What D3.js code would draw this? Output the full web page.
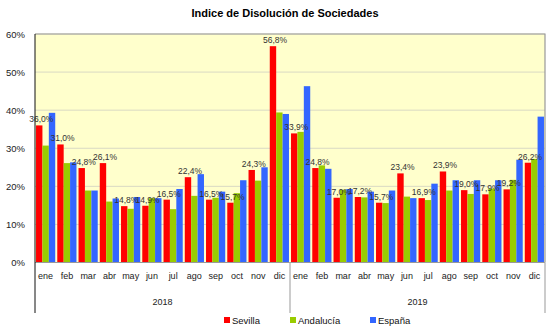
<!DOCTYPE html>
<html>
<head>
<meta charset="utf-8">
<script src="https://cdn.jsdelivr.net/npm/d3@7"></script>
<style>
  body { margin: 0; background: #fff; }
  text { font-family: "Liberation Sans", Arial, sans-serif; }
</style>
</head>
<body>
<svg id="chart" width="555" height="336"></svg>
<script>
const months = ["ene","feb","mar","abr","may","jun","jul","ago","sep","oct","nov","dic"];
const years = ["2018","2019"];
const seriesNames = ["Sevilla","Andalucía","España"];
const colors = ["#ff0000","#99cc00","#3366ff"];

// values in %, 24 months (2018 then 2019)
const sevilla   = [36.0,31.0,24.8,26.1,14.8,14.9,16.5,22.4,16.5,15.7,24.3,56.8,
                   33.9,24.8,17.0,17.2,15.7,23.4,16.9,23.9,19.0,17.9,19.2,26.2];
const andalucia = [30.7,26.1,18.9,16.0,14.1,16.9,14.0,17.5,17.0,18.2,21.5,39.4,
                   34.3,25.5,19.1,17.1,15.6,17.3,16.4,18.9,18.0,19.4,21.7,27.2];
const espana    = [39.3,26.3,18.9,16.8,17.2,16.9,19.3,23.2,18.6,21.6,25.0,39.0,
                   46.3,24.6,19.3,18.6,18.9,16.9,20.7,21.6,21.6,21.6,27.0,38.3];
const yTicks = [0,10,20,30,40,50,60];

const svg = d3.select("#chart");
const margin = {top: 34, right: 10, bottom: 72, left: 35};
const W = 555, H = 336;
const x0 = margin.left, x1 = W - margin.right;
const yTop = margin.top, yBot = 262.5;

const cats = [];
years.forEach(yr => months.forEach(m => cats.push(yr + "-" + m)));
const data = cats.map((c, i) => ({key: c, month: months[i % 12], vals: [sevilla[i], andalucia[i], espana[i]]}));

const x = d3.scaleBand().domain(cats).range([x0, x1]).paddingInner(0).paddingOuter(0);
const xs = d3.scaleBand().domain([0,1,2]).range([0, x.bandwidth()]).paddingInner(0).paddingOuter(0.16);
const y = d3.scaleLinear().domain([0, 60]).range([yBot, yTop]);

// title
svg.append("text").attr("x", 285).attr("y", 17).attr("text-anchor", "middle")
  .attr("font-size", 11).attr("font-weight", "bold").text("Indice de Disolución de Sociedades");

// plot background
svg.append("rect").attr("x", x0).attr("y", yTop).attr("width", x1 - x0).attr("height", yBot - yTop)
  .attr("fill", "#ffffcc");

// gridlines
svg.append("g").selectAll("line").data(yTicks.slice(1)).join("line")
  .attr("x1", x0).attr("x2", x1).attr("y1", d => y(d)).attr("y2", d => y(d))
  .attr("stroke", "#d9d9c3").attr("stroke-width", 1);

// frame top/right
svg.append("path").attr("d", `M${x0},${yTop}H${x1}V${yBot}`).attr("fill", "none")
  .attr("stroke", "#999").attr("stroke-width", 1.2);

// bars
const groups = svg.append("g").selectAll("g").data(data).join("g")
  .attr("transform", d => `translate(${x(d.key)},0)`);
groups.selectAll("rect").data(d => d.vals.map((v, k) => ({v, k}))).join("rect")
  .attr("x", d => xs(d.k)).attr("width", xs.bandwidth())
  .attr("y", d => y(d.v)).attr("height", d => yBot - y(d.v))
  .attr("fill", d => colors[d.k]);

// labels on Sevilla bars
groups.append("text")
  .attr("x", d => xs(0) + xs.bandwidth() / 2 + 2)
  .attr("y", d => y(d.vals[0]) - 3)
  .attr("text-anchor", "middle").attr("font-size", 8.5).attr("fill", "#333")
  .text(d => d3.format(".1f")(d.vals[0]).replace(".", ",") + "%");

// x axis baseline
svg.append("line").attr("x1", x0).attr("x2", x1).attr("y1", yBot).attr("y2", yBot)
  .attr("stroke", "#999");

// y axis
const yAxis = d3.axisLeft(y).tickValues(yTicks).tickSize(0).tickPadding(10)
  .tickFormat(d => d + "%");
const gy = svg.append("g").attr("transform", `translate(${x0},0)`).call(yAxis);
gy.select(".domain").remove();
gy.selectAll("text").attr("font-size", 9.5).attr("fill", "#222").attr("font-family", "Liberation Sans, Arial, sans-serif");
svg.append("line").attr("x1", x0).attr("x2", x0).attr("y1", yTop).attr("y2", 313)
  .attr("stroke", "#111").attr("stroke-width", 1);

// month labels
const xAxis = d3.axisBottom(x).tickSize(0).tickPadding(10).tickFormat(d => d.split("-")[1]);
const gx = svg.append("g").attr("transform", `translate(0,${yBot})`).call(xAxis);
gx.select(".domain").remove();
gx.selectAll("text").attr("font-size", 9).attr("fill", "#222").attr("font-family", "Liberation Sans, Arial, sans-serif");

// year separators and labels
const sepX = [x(cats[12]), x1];
svg.append("g").selectAll("line").data(sepX).join("line")
  .attr("x1", d => d).attr("x2", d => d).attr("y1", yBot).attr("y2", 313)
  .attr("stroke", "#bbb").attr("stroke-width", 1.5);
svg.append("g").selectAll("text").data(years).join("text")
  .attr("x", (d, i) => (x(cats[i * 12]) + x(cats[i * 12 + 11]) + x.bandwidth()) / 2)
  .attr("y", 305).attr("text-anchor", "middle").attr("font-size", 9).attr("fill", "#222")
  .text(d => d);

// legend
const legX = [224, 290, 370];
const leg = svg.append("g").selectAll("g").data(seriesNames).join("g")
  .attr("transform", (d, i) => `translate(${legX[i]},321)`);
leg.append("rect").attr("x", 0).attr("y", -4).attr("width", 6).attr("height", 6)
  .attr("fill", (d, i) => colors[i]);
leg.append("text").attr("x", 8).attr("y", 3).attr("font-size", 9.5).attr("fill", "#111").text(d => d);
</script>
</body>
</html>
